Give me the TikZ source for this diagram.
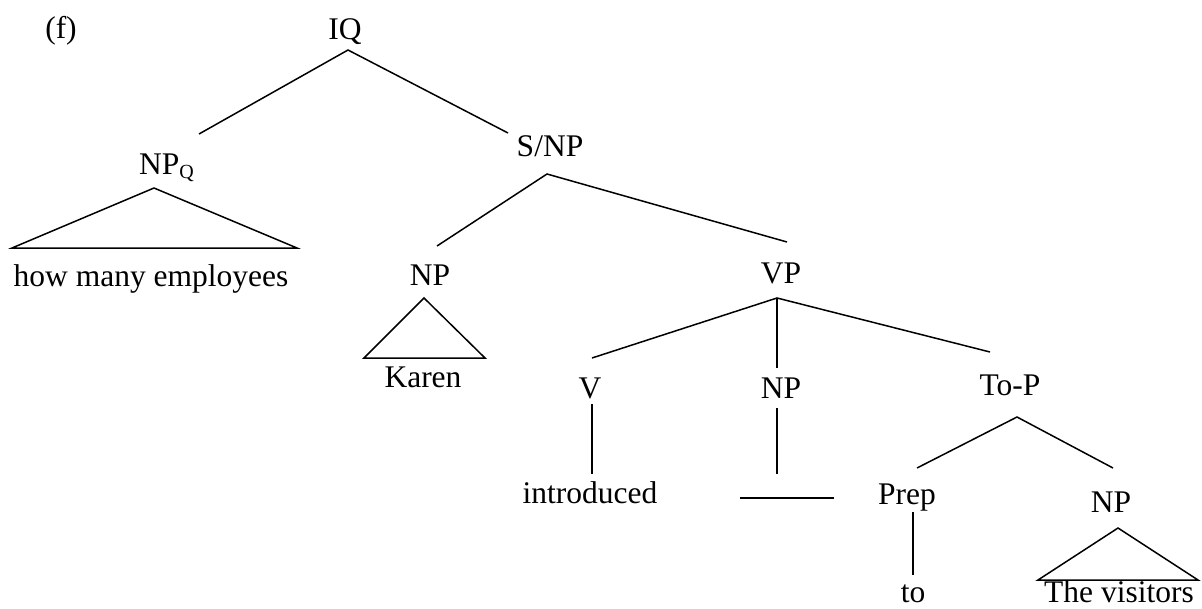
\documentclass[tikz,border=0pt]{standalone}
\usepackage{fontspec}
\setmainfont{Liberation Serif}
\begin{document}
\begin{tikzpicture}[x=1pt,y=-1pt,
  lbl/.style={anchor=base,inner sep=0pt,font=\fontsize{31.5}{36}\selectfont},
  branch/.style={line width=1.5pt,line join=miter},
  roof/.style={line width=1.5pt,line join=miter}]
\useasboundingbox (0,0) rectangle (1202,608);

% labels
\node[lbl] (f) at (61,38) {(f)};
\node[lbl] (iq) at (345,39) {IQ};
\node[lbl,anchor=base west] (npq) at (139,174)
  {NP{\fontsize{20}{22}\selectfont\raisebox{-4pt}{Q}}};
\node[lbl] (hme) at (151,286) {how many employees};
\node[lbl] (snp) at (550,156) {S/NP};
\node[lbl] (np1) at (430,285) {NP};
\node[lbl] (karen) at (423,387) {Karen};
\node[lbl] (vp) at (781,283) {VP};
\node[lbl] (v) at (590,398) {V};
\node[lbl] (np2) at (781,398) {NP};
\node[lbl] (topp) at (1010,395) {To-P};
\node[lbl] (intro) at (590,503) {introduced};
\node[lbl] (prep) at (907,504) {Prep};
\node[lbl] (np3) at (1111,512) {NP};
\node[lbl] (to) at (913,602) {to};
\node[lbl] (vis) at (1119,602) {The visitors};

% branch end points
\coordinate (iq-b) at (348,50);
\coordinate (npq-t) at (199,134);
\coordinate (snp-t) at (508,133);
\coordinate (snp-b) at (547,174);
\coordinate (np1-t) at (437,246);
\coordinate (vp-t) at (787,242);
\coordinate (vp-b) at (777,298);
\coordinate (v-t) at (592,358);
\coordinate (np2-t) at (777,368);
\coordinate (topp-t) at (990,352);
\coordinate (v-b) at (592,404);
\coordinate (intro-t) at (592,474);
\coordinate (np2-b) at (777,408);
\coordinate (gap-t) at (777,474);
\coordinate (gap-l) at (740,498);
\coordinate (gap-r) at (834,498);
\coordinate (topp-b) at (1017,417);
\coordinate (prep-t) at (917,468);
\coordinate (np3-t) at (1113,468);
\coordinate (prep-b) at (913,512);
\coordinate (to-t) at (913,575);

% branches
\draw[branch] (npq-t) -- (iq-b) -- (snp-t);
\draw[branch] (np1-t) -- (snp-b) -- (vp-t);
\draw[branch] (v-t) -- (vp-b) -- (topp-t);
\draw[branch] (vp-b) -- (np2-t);
\draw[branch] (v-b) -- (intro-t);
\draw[branch] (np2-b) -- (gap-t);
\draw[branch] (gap-l) -- (gap-r);
\draw[branch] (prep-t) -- (topp-b) -- (np3-t);
\draw[branch] (prep-b) -- (to-t);

% roofs over unanalysed phrases
\draw[roof] (154,188) coordinate (npq-r) -- (297,248) -- (12,248) -- cycle;
\draw[roof] (424,298) coordinate (np1-r) -- (485,358) -- (364,358) -- cycle;
\draw[roof] (1118,528) coordinate (np3-r) -- (1198,580) -- (1038,580) -- cycle;
\end{tikzpicture}
\end{document}
